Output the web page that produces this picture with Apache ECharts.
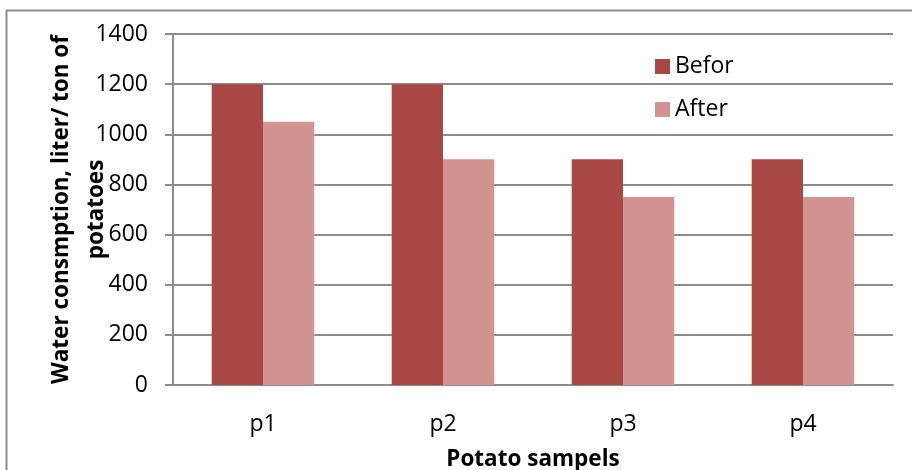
<!DOCTYPE html>
<html>
<head>
<meta charset="utf-8">
<script src="https://cdn.jsdelivr.net/npm/echarts@6/dist/echarts.min.js"></script>
<style>
html,body{margin:0;padding:0;background:#fff;}
#chart{width:912px;height:470px;}
</style>
</head>
<body>
<div id="chart"></div>
<script>
const categories = ['p1', 'p2', 'p3', 'p4'];
const beforValues = [1200, 1200, 900, 900];
const afterValues = [1050, 900, 750, 750];
const seriesNames = ['Befor', 'After'];
const yTicks = { min: 0, max: 1400, interval: 200 };

const FONT = '"Open Sans", sans-serif';
const chart = echarts.init(document.getElementById('chart'));
chart.setOption({
  animation: false,
  backgroundColor: '#ffffff',
  graphic: [{
    type: 'rect',
    shape: { x: 6.5, y: 10.5, width: 940, height: 500 },
    style: { fill: 'none', stroke: '#8c8c8c', lineWidth: 2 },
    silent: true,
    z: -1
  }],
  grid: { left: 173, right: 19, top: 34, bottom: 85, containLabel: false, outerBoundsMode: 'none' },
  legend: {
    data: seriesNames,
    orient: 'vertical',
    left: 650,
    top: 50,
    itemWidth: 15,
    itemHeight: 15,
    itemGap: 20,
    icon: 'rect',
    textStyle: { fontFamily: FONT, fontSize: 23, color: '#000' }
  },
  xAxis: {
    type: 'category',
    data: categories,
    name: 'Potato sampels',
    nameLocation: 'middle',
    nameGap: 63,
    nameMoveOverlap: false,
    nameTextStyle: { fontFamily: FONT, fontSize: 22.5, fontWeight: 'bold', color: '#000' },
    axisLine: { lineStyle: { color: '#8c8c8c', width: 2 } },
    axisTick: { length: 8, lineStyle: { color: '#8c8c8c', width: 2 } },
    axisLabel: { fontFamily: FONT, fontSize: 23, color: '#000', margin: 28 }
  },
  yAxis: {
    type: 'value',
    min: yTicks.min,
    max: yTicks.max,
    interval: yTicks.interval,
    name: 'Water consmption, liter/ ton of\npotatoes',
    nameLocation: 'middle',
    nameGap: 59,
    nameMoveOverlap: false,
    nameTextStyle: { fontFamily: FONT, fontSize: 22.5, fontWeight: 'bold', color: '#000', lineHeight: 35 },
    axisLine: { show: true, lineStyle: { color: '#8c8c8c', width: 2 } },
    axisTick: { show: true, length: 8, lineStyle: { color: '#8c8c8c', width: 2 } },
    axisLabel: { fontFamily: FONT, fontSize: 23, color: '#000', margin: 25, formatter: v => String(v) },
    splitLine: { lineStyle: { color: '#8c8c8c', width: 2 } }
  },
  series: [
    {
      name: seriesNames[0], type: 'bar', data: beforValues,
      barGap: '0%', barCategoryGap: '43%',
      itemStyle: { color: '#A94744' }
    },
    {
      name: seriesNames[1], type: 'bar', data: afterValues,
      barGap: '0%', barCategoryGap: '43%',
      itemStyle: { color: '#D39391' }
    }
  ]
});
</script>
</body>
</html>
